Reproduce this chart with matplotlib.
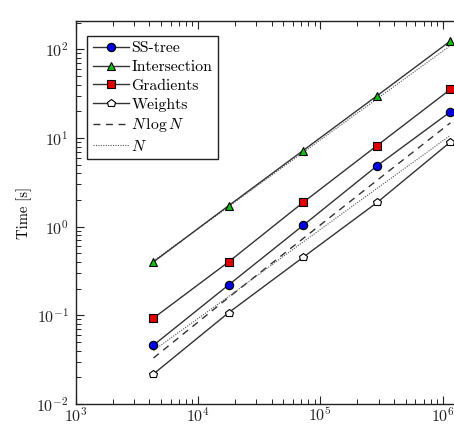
import matplotlib
matplotlib.use("Agg")
import matplotlib.pyplot as plt

# ---- data ----
n_points = [4325, 17800, 72300, 291600, 1160000]
ss_tree = [0.046, 0.22, 1.03, 4.85, 19.7]
intersection = [0.40, 1.72, 7.2, 29.9, 124.0]
gradients = [0.093, 0.40, 1.87, 8.2, 35.3]
weights = [0.0218, 0.107, 0.45, 1.87, 9.0]
nlogn_ref = [0.033, 0.159, 0.733, 3.33, 14.8]
n_ref_low = [0.040, 0.163, 0.67, 2.70, 10.7]
n_ref_high = [0.41, 1.68, 6.85, 27.6, 110.0]
labels = ["SS-tree", "Intersection", "Gradients", "Weights",
          r"$N\,\log N$", r"$N$"]
ylabel = "Time [s]"

plt.rcParams["font.family"] = "serif"
plt.rcParams["font.serif"] = ["cmr10", "DejaVu Serif"]
plt.rcParams["mathtext.fontset"] = "cm"
plt.rcParams["axes.formatter.use_mathtext"] = True
plt.rcParams["axes.unicode_minus"] = False

fig = plt.figure(figsize=(4.54, 4.24), dpi=100)
ax = fig.add_axes([75.7 / 454, 20 / 424, (463 - 75.7) / 454, 383 / 424])

line_col = "#333333"
ms = 5.6
mew = 0.8
ax.plot(n_points, ss_tree, "-", color=line_col, lw=1.0, marker="o", ms=ms + 0.4,
        mfc="#0000e0", mec="#000000", mew=mew, label=labels[0], zorder=4)
ax.plot(n_points, intersection, "-", color=line_col, lw=1.0, marker="^", ms=ms + 0.4,
        mfc="#10c010", mec="#000000", mew=mew, label=labels[1], zorder=4)
ax.plot(n_points, gradients, "-", color=line_col, lw=1.0, marker="s", ms=ms - 0.4,
        mfc="#e00000", mec="#000000", mew=mew, label=labels[2], zorder=4)
ax.plot(n_points, weights, "-", color=line_col, lw=1.0, marker="p", ms=ms + 0.6,
        mfc="white", mec="#000000", mew=mew, label=labels[3], zorder=4)
ax.plot(n_points, nlogn_ref, color=line_col, lw=1.0, ls=(0, (5, 4)),
        label=labels[4], zorder=3)
ax.plot(n_points, n_ref_low, color="#555555", lw=0.8, ls=(0, (1, 1.2)),
        label=labels[5], zorder=3)
ax.plot(n_points, n_ref_high, color="#555555", lw=0.8, ls=(0, (1, 1.2)),
        zorder=3)

ax.set_xscale("log")
ax.set_yscale("log")
ax.set_xlim(1e3, 1.47e6)
ax.set_ylim(1e-2, 208)

ax.tick_params(which="both", direction="in", top=True, right=False,
               labelsize=11.5, pad=5, colors="#222222")
ax.tick_params(which="major", length=6, width=0.8)
ax.tick_params(which="minor", length=3.8, width=0.7)
ax.tick_params(axis="x", pad=1.5)
for s in ax.spines.values():
    s.set_linewidth(1.0)
    s.set_color("#222222")
ax.spines["right"].set_visible(False)

ax.set_ylabel(ylabel, fontsize=10.5, labelpad=3)

leg = ax.legend(loc="upper left", bbox_to_anchor=(0.0305 * 380 / 387, 0.961),
                borderaxespad=0, fontsize=11.3, fancybox=False,
                edgecolor="#222222", framealpha=1, handlelength=2.3,
                handletextpad=0.15, labelspacing=0.3, borderpad=0.35)
leg.get_frame().set_linewidth(1.0)

fig.savefig("out.png", dpi=100)
